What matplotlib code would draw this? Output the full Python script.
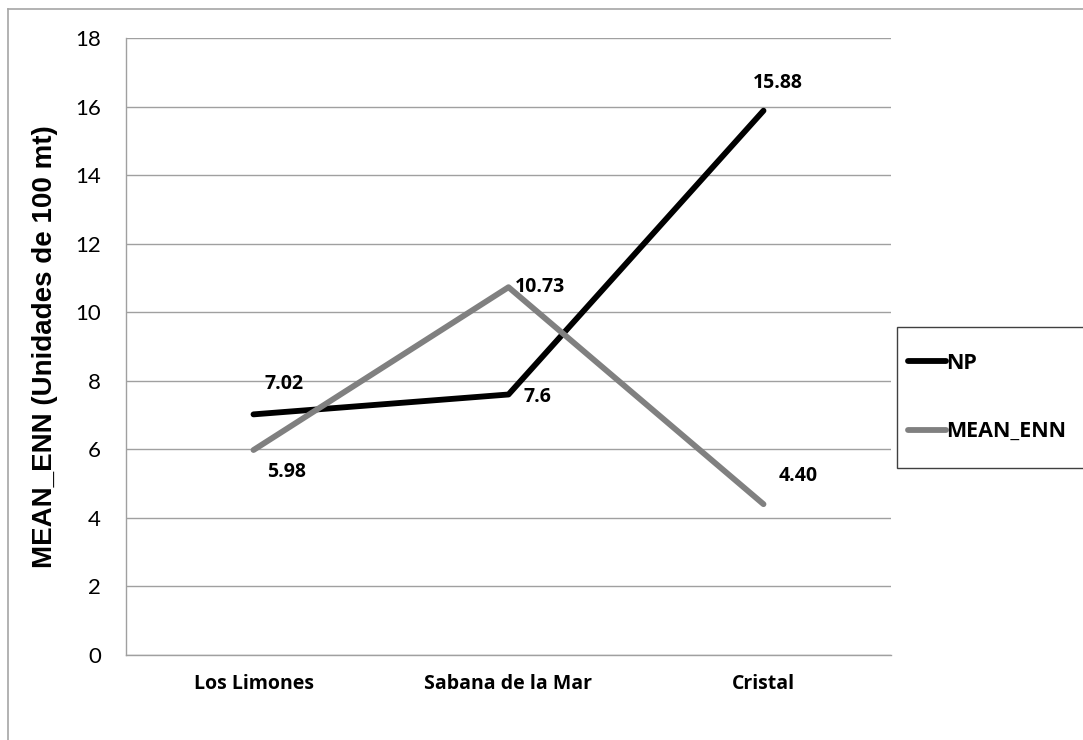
import matplotlib
matplotlib.use("Agg")
import matplotlib.pyplot as plt
from matplotlib.lines import Line2D
from matplotlib.patches import Rectangle

# site categories and the two series
sites = ["Los Limones", "Sabana de la Mar", "Cristal"]
np_vals = [7.02, 7.6, 15.88]
mean_enn = [5.98, 10.73, 4.40]
np_text = ["7.02", "7.6", "15.88"]
enn_text = ["5.98", "10.73", "4.40"]
yticks = [0, 2, 4, 6, 8, 10, 12, 14, 16, 18]

W, H = 1083, 740
fig = plt.figure(figsize=(W / 100, H / 100), dpi=100)
plt.rcParams["font.family"] = ["Lato", "DejaVu Sans"]
BOLD = ["Open Sans", "DejaVu Sans"]

# chart area frame (only the top and left edges fall inside the image)
fig.add_artist(Line2D([8 / W, 8 / W], [0, 1 - 9 / H], transform=fig.transFigure,
                      color="#a6a6a6", lw=1.2))
fig.add_artist(Line2D([8 / W, 1], [1 - 9 / H, 1 - 9 / H], transform=fig.transFigure,
                      color="#a6a6a6", lw=1.2))

ax = fig.add_axes([126 / W, 1 - 655 / H, (891 - 126) / W, (655 - 38) / H])
x = list(range(len(sites)))

ax.plot(x, np_vals, color="black", lw=4.2, solid_capstyle="round",
        solid_joinstyle="round", label="NP", zorder=3)
ax.plot(x, mean_enn, color="#808080", lw=4.2, solid_capstyle="round",
        solid_joinstyle="round", label="MEAN_ENN", zorder=3)

ax.set_xlim(-0.5, len(sites) - 0.5)
ax.set_ylim(0, 18)
ax.set_yticks(yticks)
ax.set_xticks(x)
ax.set_xticklabels(sites, fontsize=14, fontweight="bold", family=BOLD)
ax.tick_params(axis="y", labelsize=16, length=0, pad=18)
ax.tick_params(axis="x", length=0, pad=14)
ax.grid(axis="y", color="#a0a0a0", lw=1)
ax.set_axisbelow(True)
for s in ["top", "right"]:
    ax.spines[s].set_visible(False)
for s in ["left", "bottom"]:
    ax.spines[s].set_color("#a0a0a0")
    ax.spines[s].set_linewidth(1)

ax.set_ylabel("MEAN_ENN (Unidades de 100 mt)", fontsize=20, fontweight="bold",
              family="Liberation Sans", labelpad=12)

# data labels, offsets in points
np_off = [(22, 22), (21, -2), (10, 20)]
enn_off = [(24, -16), (23, 0), (25, 20)]
for i in x:
    ax.annotate(np_text[i], (i, np_vals[i]), xytext=np_off[i],
                textcoords="offset points", ha="center", va="center",
                fontsize=14, fontweight="bold", family=BOLD)
    ax.annotate(enn_text[i], (i, mean_enn[i]), xytext=enn_off[i],
                textcoords="offset points", ha="center", va="center",
                fontsize=14, fontweight="bold", family=BOLD)

# legend box, running off the right edge
fig.add_artist(Rectangle((897 / W, 1 - 468 / H), 300 / W, (468 - 327) / H,
                         transform=fig.transFigure, facecolor="white",
                         edgecolor="#404040", lw=1))
leg = fig.legend(loc="center left", bbox_to_anchor=(908 / W, 1 - 397.5 / H),
                 frameon=False, prop={"weight": "bold", "size": 15.5, "family": BOLD},
                 handlelength=1.75, handletextpad=0.0, labelspacing=2.2,
                 borderpad=0, borderaxespad=0)

fig.savefig("out.png", dpi=100)
